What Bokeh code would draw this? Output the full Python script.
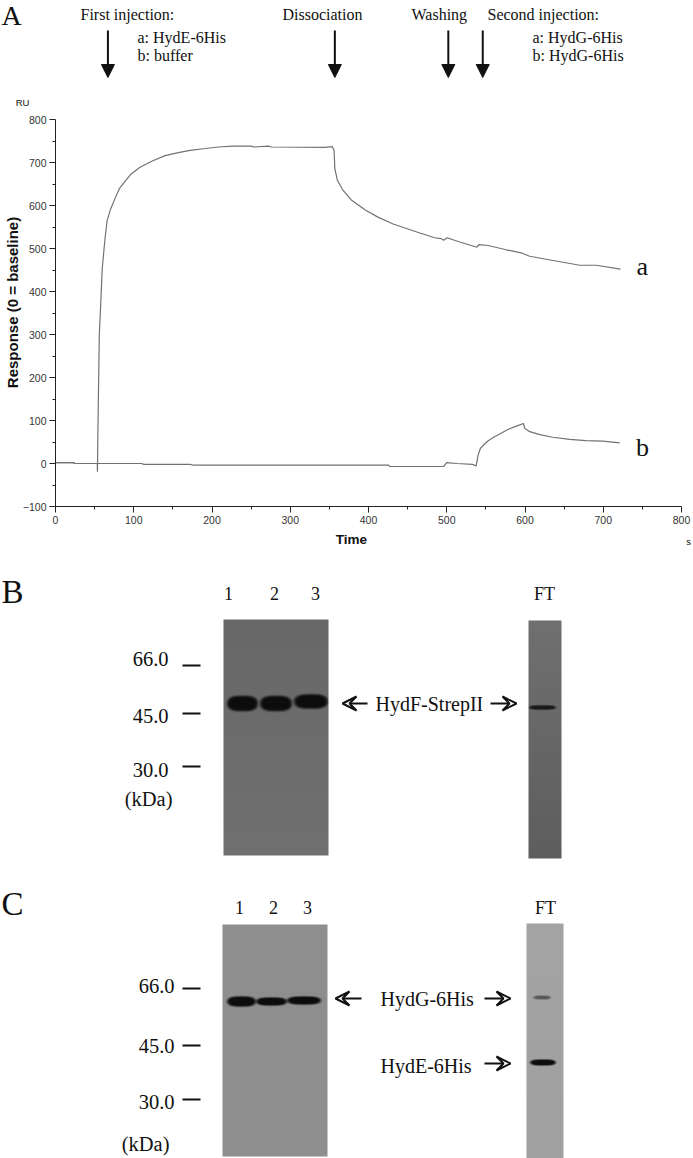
import numpy as np
from bokeh.plotting import figure
from bokeh.layouts import column
from bokeh.models import Range1d, FixedTicker, Arrow, NormalHead, VeeHead
from bokeh.core.properties import value
from bokeh.embed import file_html
from bokeh.resources import INLINE

# ---- sensorgram values (time in s, response in RU) ----
time_a = [0,22,25,52,53.4,53.6,54,56,58,59.7,63,66,70.5,76,81.6,88.8,97,108,123,140,157,172,189,208,227,250.6,253,272,276,
          344,353.6,356,357,360.4,367.6,378,395.5,412,431.5,465.6,484.7,493,496,500.4,516.6,538.7,541,552.8,576,595,606,
          627,648.5,670,691,722]
resp_a = [2,2,0,0,0,-19,50,300,380,453,518,565,592,616,639,656,674,689,703,716,723,728,732,736,738,738,736,738,736,
          735,737,728,685,658,635,613,590,573,557,536,525,523,519,525,515,503,509,507,497,490,482,
          475,468,461,461,452]
time_b = [0,22.5,25,110,113,172,176,426,427,496,500,513,533,537.5,540,543,547,553,561,570,578,589,598,599.6,606,619,635.6,657,678,699.5,721]
resp_b = [2,2,0,0,-2,-2,-4,-4,-7,-7,2,0,-2,-6,19,35,43,53,62,71,79,87,93,82,74,67,61,56,53,52,48]
x_ticks = [0,100,200,300,400,500,600,700,800]
x_minor = [50,150,250,350,450,550,650,750]
y_ticks = [-100,0,100,200,300,400,500,600,700,800]
y_minor = [-50,50,150,250,350,450,550,650,750]
event_times = [67,357,502,546]

SERIF = "Liberation Serif"
SANS = "Liberation Sans"
W, H = 693, 1158
STRIP_H, CHART_H = 95, 478
X0_PX, X_SCALE = 55, 626/800      # page x of t=0, px per s
Y0_PX, Y_SCALE = 463, 387/900     # page y of RU=0, px per RU

def bare(h):
    f = figure(width=W, height=h, output_backend="svg", toolbar_location=None, min_border=0,
               x_range=Range1d(0, W), y_range=Range1d(0, h), frame_align=False)
    f.axis.visible = False
    f.grid.visible = False
    f.outline_line_color = None
    return f

def txt(f, x, y, s, size, align="left", font=SERIF, color="#111111", style="normal", angle=0.0):
    f.text([x], [y], text=[s], text_font=value(font), text_font_size=f"{size}px",
           text_font_style=style, angle=angle,
           text_align=align, text_baseline="middle", text_color=color)

def harrow(f, x0, x1, y):
    f.add_layout(Arrow(end=VeeHead(size=14, line_width=2, line_color="#111111", fill_alpha=0, fill_color=None),
                       x_start=x0, x_end=x1, y_start=y, y_end=y, line_width=2, line_color="#111111"))

# ---- top strip: event labels and arrows ----
top = bare(STRIP_H)
ty = lambda y: STRIP_H - y
for x, y, s in [(80,14,"First injection:"),(137,37,"a: HydE-6His"),(137,55,"b: buffer"),
                (282,14,"Dissociation"),(411,14,"Washing"),(487,14,"Second injection:"),
                (532,37,"a: HydG-6His"),(532,55,"b: HydG-6His")]:
    txt(top, x, ty(y), s, 16)
txt(top, 1, ty(15), "A", 28)
for t in event_times:
    px = X0_PX + t * X_SCALE
    top.add_layout(Arrow(end=NormalHead(size=13, fill_color="#111111", line_color="#111111"),
                         x_start=px, x_end=px, y_start=ty(30), y_end=ty(77), line_width=2, line_color="#111111"))

# ---- panel A chart: the frame fills the figure, the axes sit at t=0 and RU=-100 ----
dx = lambda px: (px - X0_PX) / X_SCALE
dy = lambda py: (Y0_PX - py) / Y_SCALE
p = figure(width=W, height=CHART_H, output_backend="svg", toolbar_location=None, min_border=0,
           x_range=Range1d(dx(0), dx(W)), y_range=Range1d(dy(STRIP_H+CHART_H), dy(STRIP_H)), frame_align=False)
p.grid.visible = False
p.outline_line_color = None
p.xaxis.ticker = FixedTicker(ticks=x_ticks, minor_ticks=x_minor)
p.yaxis.ticker = FixedTicker(ticks=y_ticks, minor_ticks=y_minor)
p.xaxis.fixed_location = y_ticks[0]
p.yaxis.fixed_location = x_ticks[0]
p.xaxis.bounds = (x_ticks[0], x_ticks[-1])
p.yaxis.bounds = (y_ticks[0], y_ticks[-1])
for ax in (p.xaxis[0], p.yaxis[0]):
    ax.major_tick_in = 0; ax.major_tick_out = 6
    ax.minor_tick_in = 0; ax.minor_tick_out = 3
    ax.major_label_text_font = SANS
    ax.major_label_text_font_size = "10.5px"
    ax.major_label_text_color = "#333333"
    ax.axis_line_color = "#222222"
    ax.major_tick_line_color = "#222222"
    ax.minor_tick_line_color = "#222222"
    ax.major_label_standoff = 3
p.line(time_a, resp_a, line_color="#727272", line_width=1.2)
p.line(time_b, resp_b, line_color="#727272", line_width=1.2)
txt(p, 750, 457, "a", 26, "center")
txt(p, 750, 37, "b", 26, "center")
txt(p, dx(22), dy(102), "RU", 9.5, "center", SANS)
txt(p, dx(688), dy(541), "s", 9.5, "center", SANS)
txt(p, dx(351), dy(539), "Time", 13.5, "center", SANS, style="bold")
txt(p, dx(12), dy(302), "Response (0 = baseline)", 15, "center", SANS, style="bold", angle=np.pi/2)

# ---- panels B and C ----
b = bare(H - STRIP_H - CHART_H)
by = lambda y: 1158 - y

def gel(f, x0, x1, y0, y1, top_grey, bot_grey, bands):
    w, h = int(x1-x0), int(y1-y0)
    yy, xx = np.mgrid[0:h, 0:w] + 0.5
    g = top_grey + (bot_grey-top_grey) * yy/h
    for cx0, cx1, cy, bh, dark in bands:
        cx, rx = (cx0+cx1)/2 - x0, (cx1-cx0)/2
        d = (np.abs((xx-cx)/rx)**3.2 + np.abs((yy-(cy-y0))/(bh/2))**2.2)
        s = np.clip((1.6 - d)/1.1, 0, 1)
        a = s*s*(3-2*s) * dark
        g = g*(1-a) + 12*a
    img = np.zeros((h, w), dtype=np.uint32)
    v = img.view(dtype=np.uint8).reshape((h, w, 4))
    arr = np.flipud(g).astype(np.uint8)
    v[..., 0] = arr; v[..., 1] = arr; v[..., 2] = arr; v[..., 3] = 255
    f.image_rgba(image=[img], x=x0, y=by(y1), dw=w, dh=h)

def ticks(f, ys):
    for y in ys:
        f.line([182, 200], [by(y), by(y)], line_color="#111111", line_width=2)

gel(b, 223, 328, 619, 855, 104, 112,
    [(227,257,703,15,1.0),(260,291,703,15,1.0),(294,327,701,14,1.0)])
gel(b, 528, 561, 620, 858, 112, 94, [(529,555,707,4.5,0.85)])
gel(b, 222, 327, 924, 1156, 142, 144,
    [(227,255,1001,10,1.0),(256,286,1001,8,1.0),(287,320,1000,8,1.0)])
gel(b, 526, 563, 923, 1158, 164, 160, [(533,550,997,3.5,0.5),(530,555,1062,6,1.0)])
ticks(b, [665, 713, 766, 988, 1045, 1099])

for x, y, s, sz, al in [(1,591,"B",33,"left"),(1,903,"C",33,"left"),
                        (168,658,"66.0",20.5,"right"),(168,715,"45.0",20.5,"right"),(168,769,"30.0",20.5,"right"),
                        (172,798,"(kDa)",20.5,"right"),
                        (228,593,"1",18,"center"),(274,593,"2",18,"center"),(315,593,"3",18,"center"),(544,593,"FT",18,"center"),
                        (375,703,"HydF-StrepII",20,"left"),
                        (174,985,"66.0",20.5,"right"),(174,1045,"45.0",20.5,"right"),(174,1101,"30.0",20.5,"right"),
                        (169,1143,"(kDa)",20.5,"right"),
                        (239,907,"1",18,"center"),(273,907,"2",18,"center"),(307,907,"3",18,"center"),(545,907,"FT",18,"center"),
                        (380,998,"HydG-6His",20,"left"),(380,1065,"HydE-6His",20,"left")]:
    txt(b, x, by(y), s, sz, al)

for x0, x1, y in [(367,342,703),(490,516,703),(361,335,998),(484,510,998),(484,510,1063)]:
    harrow(b, x0, x1, by(y))

page = column(top, p, b, spacing=0)
open("out.html", "w").write(file_html(page, INLINE))
